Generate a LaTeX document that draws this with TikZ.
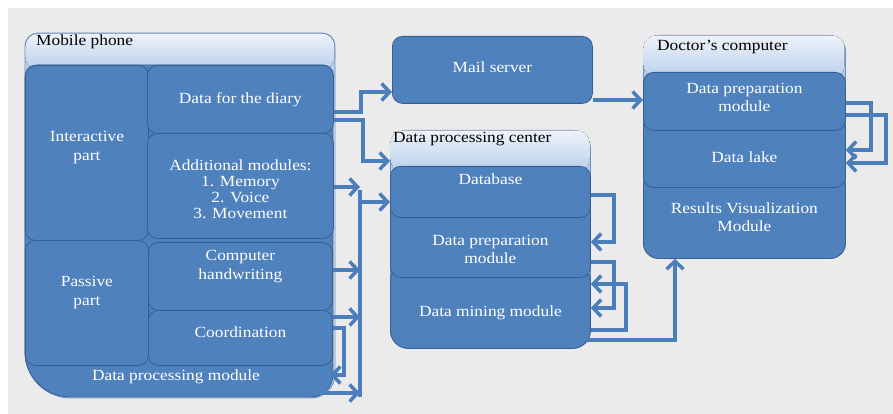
\documentclass[tikz,border=0pt]{standalone}
\usepackage{fontspec}
\setmainfont{Liberation Serif}[FakeStretch=1.12]
\usetikzlibrary{arrows.meta}
\definecolor{blu}{HTML}{4F81BD}
\definecolor{bluedge}{HTML}{385F92}
\definecolor{hdrtop}{HTML}{EEF3FA}
\definecolor{hdrbot}{HTML}{B9CFEB}
\definecolor{contedge}{HTML}{6A8FC2}
\definecolor{arr}{HTML}{4C7EBC}
\definecolor{bg}{HTML}{EBEBEB}
\begin{document}
\begin{tikzpicture}[x=1pt,y=-1pt,
  txt/.style={font=\fontsize{15.5}{18.5}\selectfont},
  lbl/.style={txt, text=white, align=center, inner sep=0pt},
  blk/.style={draw=bluedge, fill=blu, line width=0.8pt, rounded corners=10pt, inner sep=0pt, anchor=north west},
  tl/.style 2 args={label={[lbl,yshift=#1]center:{#2}}},
  ttl/.style={txt, text=black, anchor=west, inner sep=0pt},
  cont/.style={draw=contedge, line width=0.9pt, fill=hdrbot, inner sep=0pt, anchor=north west},
  shd/.style={top color=hdrtop, bottom color=hdrbot},
  conn/.style={draw=arr, line width=3.5pt, -{Straight Barb[length=8pt,width=17pt]}},
  bus/.style={draw=arr, line width=3.5pt}
]
\useasboundingbox (0,0) rectangle (893,414);
\fill[white] (0,0) rectangle (893,414);
\fill[bg] (8,8) rectangle (893,414);

% ---------------- Mobile phone
\fill[hdrbot, rounded corners=13] (25,33) rectangle (335,120);
\fill[shd, rounded corners=13] (25.4,33.4) rectangle (334.6,70);
\draw[contedge, line width=0.9pt] (180,33) [rounded corners=13] -- (335,33) [rounded corners=24] -- (335,398) [rounded corners=46] -- (25,398) [rounded corners=13] -- (25,33) -- cycle;
\node[ttl] (phonet) at (36,42) {Mobile phone};
\path[fill=blu, draw=bluedge, line width=0.8pt] (180,65) [rounded corners=10] -- (333,65) [rounded corners=22] -- (333,397) [rounded corners=45] -- (25,397) [rounded corners=12] -- (25,65) -- cycle;
\node[lbl] (dpm) at (176,377) {Data processing module};

\node[blk, minimum width=123, minimum height=175, tl={5.5pt}{Interactive\\part}] (inter) at (25,65) {};
\node[blk, minimum width=123, minimum height=125, tl={10.5pt}{Passive\\part}] (passive) at (25,240) {};
\node[blk, minimum width=186, minimum height=105,
  label={[lbl,yshift=-3.5pt,font=\fontsize{15.5}{16}\selectfont]center:{Additional modules:\\1. Memory\\2. Voice\\3. Movement}}] (addm) at (147,133) {};
\node[blk, minimum width=186, minimum height=68, tl={0pt}{Data for the diary}] (diary) at (147,65) {};
\node[blk, minimum width=184, minimum height=55, tl={5.5pt}{Coordination}] (coord) at (148,310) {};
\node[blk, minimum width=184, minimum height=68, tl={10pt}{Computer\\handwriting}] (chw) at (148,242) {};

% ---------------- Mail server
\node[blk, minimum width=200, minimum height=67, tl={2.5pt}{Mail server}] (mail) at (392,36) {};

% ---------------- Data processing center
\node[cont, minimum width=200, minimum height=218, rounded corners=18] (dpc) at (390,130) {};
\fill[shd, rounded corners=13] (390.4,130.4) rectangle (589.6,172);
\node[ttl] (dpct) at (393,139) {Data processing center};
\node[blk, rounded corners=18, minimum width=200, minimum height=86, tl={-7pt}{Data mining module}] (dmin) at (390,262) {};
\node[blk, minimum width=200, minimum height=77, tl={-10.5pt}{Data preparation\\module}] (dprep) at (390,200) {};
\node[blk, minimum width=200, minimum height=51, tl={12.5pt}{Database}] (db) at (390,166) {};

% ---------------- Doctor's computer
\node[cont, minimum width=202, minimum height=223, rounded corners=16] (doc) at (643,35) {};
\fill[shd, rounded corners=13] (643.4,35.4) rectangle (844.6,78);
\node[ttl] (doct) at (657,47) {Doctor's computer};
\node[blk, rounded corners=15, minimum width=202, minimum height=88, tl={-3pt}{Results Visualization\\Module}] (dres) at (643,170) {};
\node[blk, minimum width=202, minimum height=72, tl={-6pt}{Data lake}] (dlake) at (643,115) {};
\node[blk, minimum width=202, minimum height=58, tl={4pt}{Data preparation\\module}] (ddp) at (643,72) {};

% ---------------- Connectors
\coordinate (bt) at (360,190);
\coordinate (bb) at (360,397);
\coordinate (dpmR) at (330,375);
\coordinate (dpmB) at (320,393);
\draw[bus] (bt) -- (bb);
\draw[conn] (diary.east |- 0,112) -- ++(27,0) |- (mail.west |- 0,92);
\draw[conn] (diary.east |- 0,120) -- ++(29,0) |- (dpc.west |- 0,161);
\draw[conn] (addm.east |- 0,187) -- (bt |- 0,187);
\draw[conn] (bt |- 0,202) -- (db.west |- 0,202);
\draw[conn] (chw.east |- 0,270) -- (bt |- 0,270);
\draw[conn] (coord.east |- 0,317) -- (bt |- 0,317);
\draw[conn] (coord.east |- 0,328) -- ++(11,0) |- (dpmR);
\draw[conn] (dpmB) -- (bb |- 0,393);
\draw[conn] (mail.east |- 0,100) -- (ddp.west |- 0,100);
\draw[conn] (db.east |- 0,195) -- ++(23,0) |- (dprep.east |- 0,242);
\draw[conn] (dprep.east |- 0,262) -- ++(23,0) |- (dmin.east |- 0,308);
\draw[conn] (dmin.east |- 0,330) -- ++(35,0) |- (dmin.east |- 0,284);
\draw[conn, shorten <=-4pt] (dmin.east |- 0,340) -| (dres.south -| 675,0);
\draw[conn] (ddp.east |- 0,103) -- ++(25,0) |- (dlake.east |- 0,150);
\draw[conn] (ddp.east |- 0,115) -- ++(40,0) |- (dlake.east |- 0,163);
\end{tikzpicture}
\end{document}
